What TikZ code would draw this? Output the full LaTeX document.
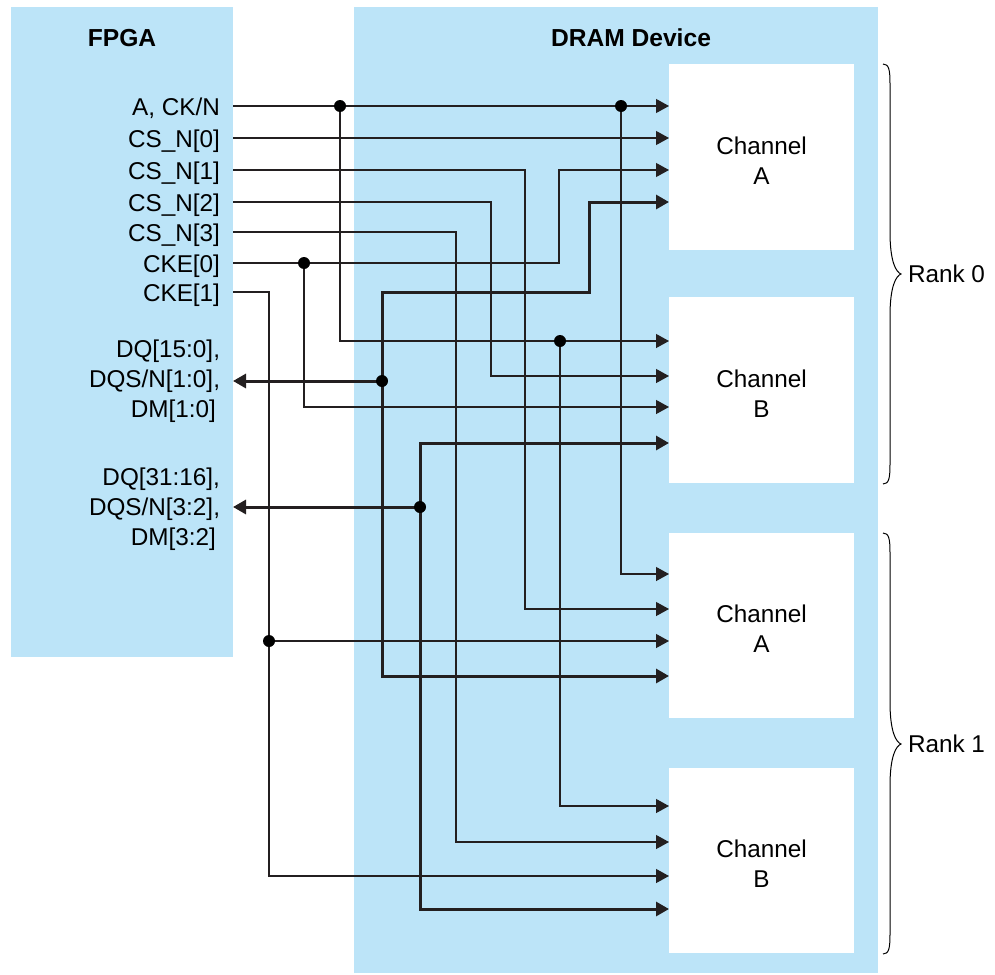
\documentclass[tikz,border=0pt]{standalone}
\usepackage{fontspec}
\setmainfont{Liberation Sans}
\usetikzlibrary{arrows.meta}
\definecolor{dblue}{RGB}{188,228,248}
\definecolor{wire}{RGB}{35,31,32}
\begin{document}
\begin{tikzpicture}[x=1pt,y=-1pt,
  every node/.style={font=\fontsize{24.3}{30}\selectfont, inner sep=0pt, outer sep=0pt},
  panel/.style={fill=dblue, draw=none, anchor=north west},
  chan/.style={fill=white, draw=none, minimum width=185pt, minimum height=186pt, align=center},
  tip/.style={-{Triangle[length=13pt,width=14pt]}},
  sig/.style={draw=wire, line width=1.2pt, tip},
  sigp/.style={draw=wire, line width=1.2pt},
  bus/.style={draw=wire, line width=3pt, tip},
  busp/.style={draw=wire, line width=3pt},
  dot/.style={circle, fill=black, minimum size=12pt, inner sep=0pt},
  lab/.style={anchor=base east},
  title/.style={anchor=base, font=\fontsize{24.6}{30}\selectfont\bfseries},
  brace/.style={draw=black, line width=1pt},
]
\useasboundingbox (0,0) rectangle (995,974);
% panels
\node[panel, minimum width=222pt, minimum height=650pt] (fpga) at (11,7) {};
\node[panel, minimum width=524pt, minimum height=966pt] (dram) at (354,7) {};
\node[title] (tF) at (122,47) {FPGA};
\node[title] (tD) at (631,47) {DRAM Device};
% channels
\node[chan] (chA0) at (761.5,157) {\rule{0pt}{24pt}Channel\\A};
\node[chan] (chB0) at (761.5,390) {\rule{0pt}{24pt}Channel\\B};
\node[chan, minimum height=185pt] (chA1) at (761.5,625.5) {\rule{0pt}{24pt}Channel\\A};
\node[chan, minimum height=185pt] (chB1) at (761.5,860.5) {\rule{0pt}{24pt}Channel\\B};
% FPGA labels
\node[lab] (lA) at (220,115) {A, CK/N};
\node[lab] (lC0) at (220,147) {CS\_N[0]};
\node[lab] (lC1) at (220,179) {CS\_N[1]};
\node[lab] (lC2) at (220,211) {CS\_N[2]};
\node[lab] (lC3) at (220,241) {CS\_N[3]};
\node[lab] (lK0) at (220,272) {CKE[0]};
\node[lab] (lK1) at (220,301) {CKE[1]};
\node[anchor=east, align=right] (lD0) at (220,381) {DQ[15:0],\\DQS/N[1:0],\\DM[1:0]\hspace*{4pt}};
\node[anchor=east, align=right] (lD1) at (220,509) {DQ[31:16],\\DQS/N[3:2],\\DM[3:2]\hspace*{4pt}};
% ports on FPGA
\coordinate (pA) at (233,106);
\coordinate (pC0) at (233,138);
\coordinate (pC1) at (233,170);
\coordinate (pC2) at (233,202);
\coordinate (pC3) at (233,232);
\coordinate (pK0) at (233,263);
\coordinate (pK1) at (233,292);
\coordinate (pD0) at (233,381);
\coordinate (pD1) at (233,507);
% inputs on channels
\coordinate (a0a) at (669,106); \coordinate (a0b) at (669,138);
\coordinate (a0c) at (669,170); \coordinate (a0d) at (669,202);
\coordinate (b0a) at (669,341); \coordinate (b0b) at (669,376);
\coordinate (b0c) at (669,407); \coordinate (b0d) at (669,443);
\coordinate (a1a) at (669,574); \coordinate (a1b) at (669,609);
\coordinate (a1c) at (669,641); \coordinate (a1d) at (669,676);
\coordinate (b1a) at (669,806); \coordinate (b1b) at (669,842);
\coordinate (b1c) at (669,876); \coordinate (b1d) at (669,909);
% junctions
\coordinate (jA1) at (340,106);
\coordinate (jA2) at (621,106);
\coordinate (jA3) at (560,341);
\coordinate (jK0) at (304,263);
\coordinate (jK1) at (269,641);
\coordinate (jD0) at (382,381);
\coordinate (jD1) at (420,507);
% thin signals
\draw[sig] (pA) -- (a0a);
\draw[sig] (jA1) |- (b0a);
\draw[sig] (jA3) |- (b1a);
\draw[sig] (jA2) |- (a1a);
\draw[sig] (pC0) -- (a0b);
\draw[sig] (pC1) -| (525,400) |- (a1b);
\draw[sig] (pC2) -| (491,300) |- (b0b);
\draw[sig] (pC3) -| (456,500) |- (b1b);
\draw[sig] (pK0) -| (559,220) |- (a0c);
\draw[sig] (jK0) |- (b0c);
\draw[sig] (pK1) -| (269,600) |- (b1c);
\draw[sig] (jK1) -- (a1c);
% buses
\draw[bus] (jD0) -- (pD0);
\draw[bus] (jD0) -- (382,292) -| (589,250) |- (a0d);
\draw[bus] (jD0) |- (a1d);
\draw[bus] (jD1) -- (pD1);
\draw[bus] (jD1) |- (b0d);
\draw[bus] (jD1) |- (b1d);
% dots
\node[dot] (dA1) at (jA1) {};
\node[dot] (dA2) at (jA2) {};
\node[dot] (dA3) at (jA3) {};
\node[dot] (dK0) at (jK0) {};
\node[dot] (dK1) at (jK1) {};
\node[dot] (dD0) at (jD0) {};
\node[dot] (dD1) at (jD1) {};
% braces
\draw[brace] (883,64) .. controls (889,64) and (890,70) .. (890,84) -- (890,232)
  .. controls (890,262) and (896,272) .. (901,274)
  .. controls (896,276) and (890,286) .. (890,316) -- (890,464)
  .. controls (890,478) and (889,484) .. (883,484);
\draw[brace] (883,533) .. controls (889,533) and (890,539) .. (890,553) -- (890,702)
  .. controls (890,732) and (896,742) .. (901,744)
  .. controls (896,746) and (890,756) .. (890,786) -- (890,934)
  .. controls (890,948) and (889,954) .. (883,954);
\node[anchor=west] (r0) at (908,274) {Rank 0};
\node[anchor=west] (r1) at (908,744) {Rank 1};
\end{tikzpicture}
\end{document}
